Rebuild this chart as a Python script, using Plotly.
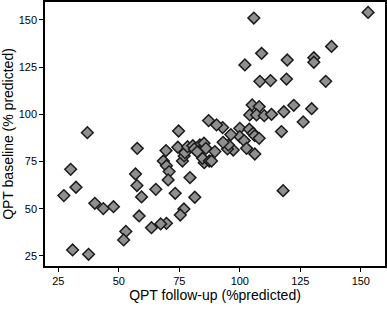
import plotly.graph_objects as go

followup = [153, 105.8, 137.9, 109, 130.6, 130.6, 119.6, 102.1, 108.3, 112.7, 119.3, 135.5,
            122.3, 129.7, 126.2, 105.1, 108, 104.1, 106.9, 110.1, 113.1, 118.2, 117.2, 117.9,
            100, 103.9, 105.5, 106.2, 108, 100, 101.8, 102.8, 106.2, 96.3, 97.3, 94.9, 95.3,
            93.1, 92.9, 90.4, 87.1, 74.7, 74.4, 57.6, 37, 69.5, 68.4, 69.7, 70.8, 70.4, 79.4,
            81.4, 73.3, 76.9, 75.4, 69.7, 67.3, 63.5, 65.3, 59.4, 58.4, 57.5, 56.9, 52.9, 52,
            47.8, 43.6, 40.1, 32.3, 30.1, 27.3, 30.9, 37.5, 76.3, 77, 77.3, 78.4, 80.6, 82.1,
            83.5, 85.2, 83.2, 86.0, 85.3, 84.6, 87.4, 88.3, 89.7, 81.2, 82.4]
baseline = [154, 151, 136, 132.3, 130, 127.6, 128.8, 126.2, 117.5, 117.9, 118.7, 117.5,
            104.8, 103, 96, 105, 104.1, 99.7, 99.7, 99.3, 100, 101.4, 90.9, 59.6,
            92.6, 92.1, 90, 88.7, 87.3, 88.2, 86.1, 82.0, 79, 89.3, 81.1, 81.7, 83.8,
            85.2, 93, 94.4, 96.7, 91.2, 82.6, 82.0, 90.3, 80.8, 75.3, 72.8, 69.7, 65.3, 66.5,
            56.1, 58.2, 49.9, 46.7, 42.3, 42, 40, 60.3, 56.3, 46.2, 62.3, 68.4, 38.0, 33.5,
            51.1, 50.1, 52.9, 61.4, 70.9, 57, 28.2, 25.9, 75.3, 78, 79.7, 82.9, 83.4, 82,
            83.8, 84.7, 80.3, 82, 74.4, 76.7, 75.3, 75.3, 80.3, 81.7, 80.2]

tick_vals = [25, 50, 75, 100, 125, 150]

fig = go.Figure(go.Scatter(
    x=followup, y=baseline, mode="markers",
    marker=dict(symbol="diamond", size=9, color="#8f8f8f",
                line=dict(color="#1a1a1a", width=1.5)),
))

font = "Liberation Sans, Arial, sans-serif"
axis_common = dict(showgrid=False, zeroline=False, showline=True, linecolor="black",
                   linewidth=1.5, mirror=True, ticks="outside", ticklen=4,
                   tickcolor="black", tickwidth=1, tickvals=tick_vals, automargin=False,
                   tickfont=dict(family=font, size=11, color="black"))

fig.update_layout(
    width=387, height=309,
    margin=dict(l=45, r=2, t=2, b=43),
    plot_bgcolor="white", paper_bgcolor="white",
    showlegend=False,
    xaxis=dict(range=[19.5, 160], title=dict(text="QPT follow-up (%predicted)",
               font=dict(family=font, size=14, color="black"), standoff=3), **axis_common),
    yaxis=dict(range=[19.7, 159.5], title=dict(text="QPT baseline (% predicted)",
               font=dict(family=font, size=14, color="black"), standoff=4), **axis_common),
)

fig.write_html("out.html", config={"displayModeBar": False},
               post_script="document.body.style.margin='0';document.body.style.padding='0';")
